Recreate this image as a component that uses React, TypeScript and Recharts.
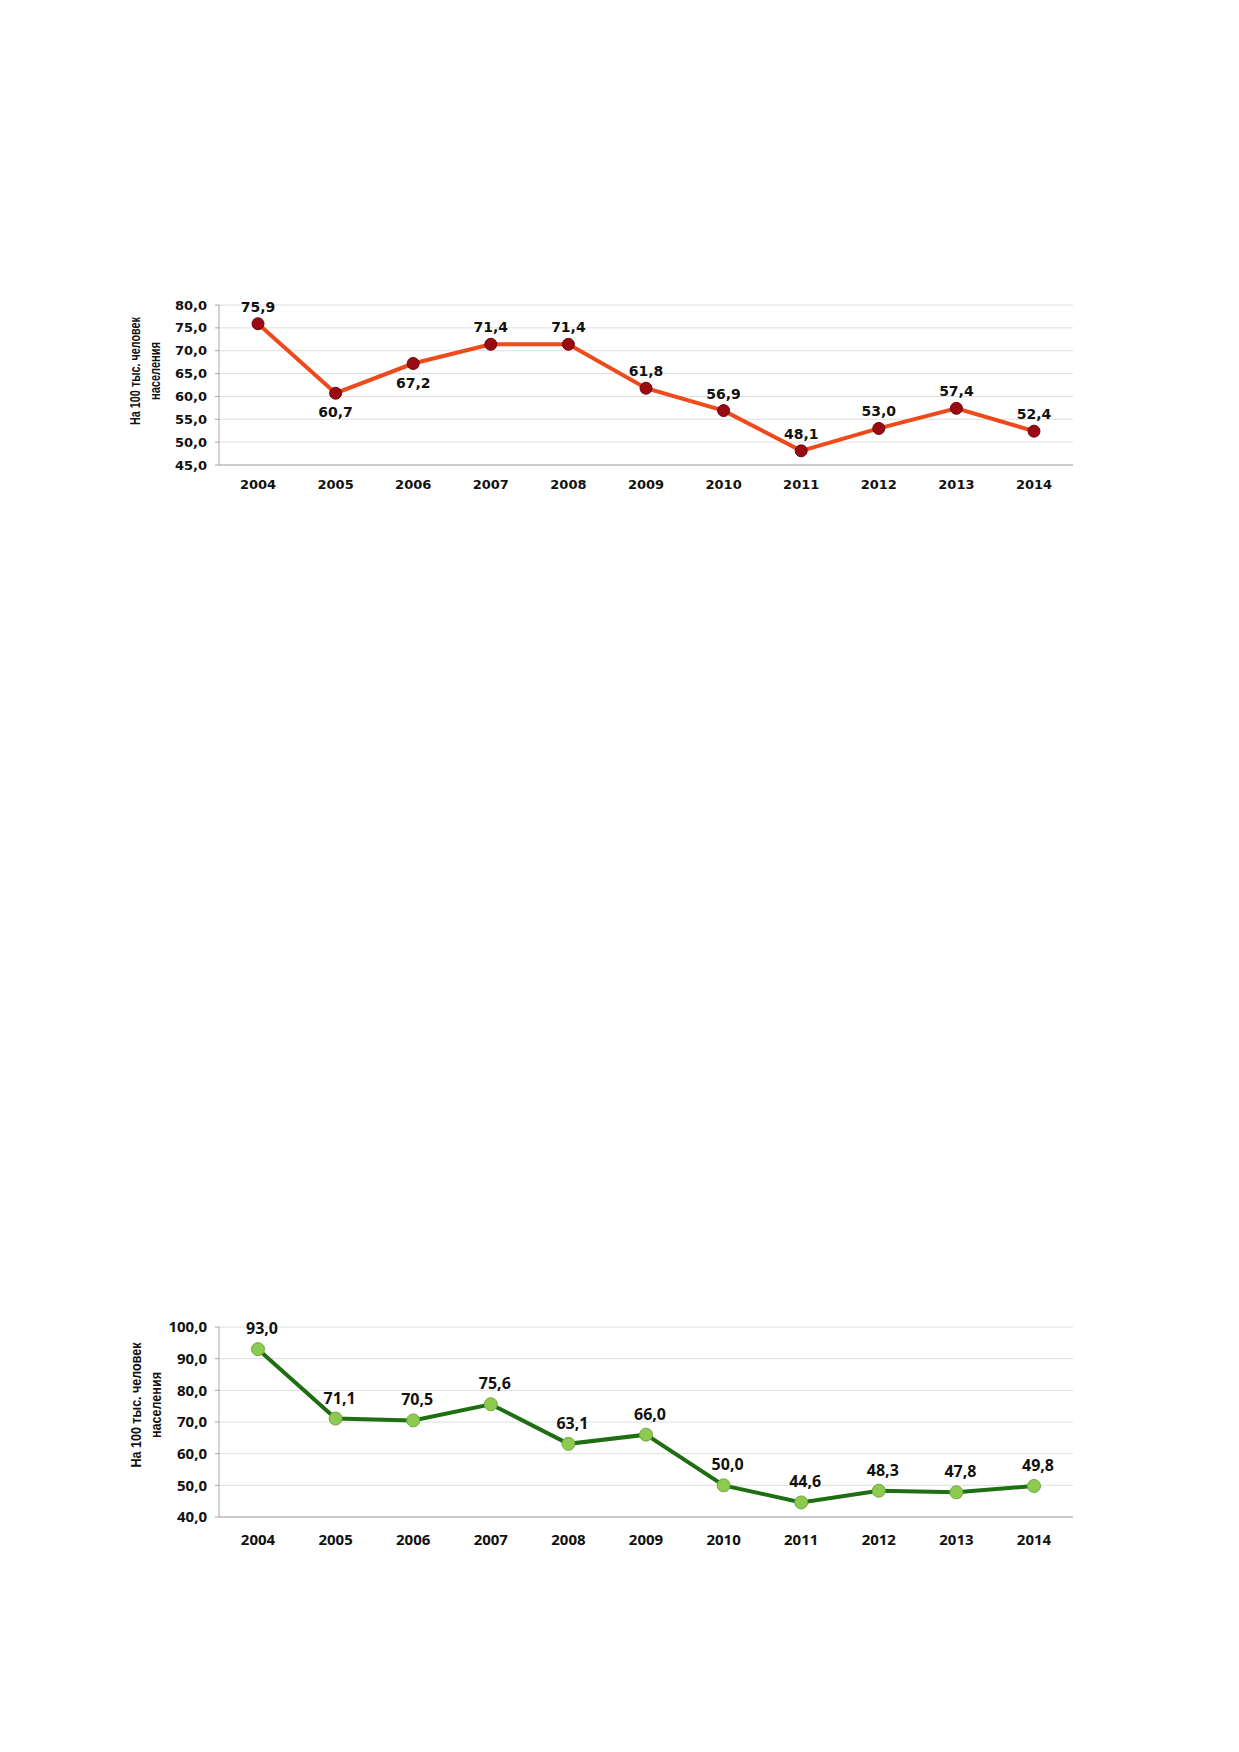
import React from "react";
import {
  LineChart,
  Line,
  XAxis,
  YAxis,
  CartesianGrid,
  LabelList,
} from "recharts";

const years = ["2004", "2005", "2006", "2007", "2008", "2009", "2010", "2011", "2012", "2013", "2014"];
const topValues = [75.9, 60.7, 67.2, 71.4, 71.4, 61.8, 56.9, 48.1, 53.0, 57.4, 52.4];
const bottomValues = [93.0, 71.1, 70.5, 75.6, 63.1, 66.0, 50.0, 44.6, 48.3, 47.8, 49.8];
const topTicks = [45, 50, 55, 60, 65, 70, 75, 80];
const bottomTicks = [40, 50, 60, 70, 80, 90, 100];
const edgeTicks = [0, 1, 2, 3, 4, 5, 6, 7, 8, 9, 10, 11];
const axisTitle = ["На 100 тыс. человек", "населения"];

const topData = years.map((year, i) => ({ year, value: topValues[i] }));
const bottomData = years.map((year, i) => ({ year, value: bottomValues[i] }));

// years whose label sits under the point in the first chart
const labelsBelow = ["2005", "2006"];

const fmt = (v: number) => v.toFixed(1).replace(".", ",");

const TITLE_FONT = '"Liberation Sans Narrow", "Arial Narrow", "Liberation Sans", sans-serif';

type ChartProps = {
  data: { year: string; value: number }[];
  ticks: number[];
  top: number;
  height: number;
  marginTop: number;
  tickFont: string;
  tickSize: number;
  labelFont: string;
  labelSize: number;
  labelGap: number;
  xMargin: number;
  line: string;
  dotFill: string;
  dotStroke: string;
  dotR: number;
  below: string[];
  labelDx: number;
  titleSize: number;
  titleLengths: number[];
  titleShift: number;
};

const Chart = (p: ChartProps) => {
  const renderLabel = (props: any) => {
    const { x, y, value, index } = props;
    const isBelow = p.below.includes(p.data[index].year);
    return (
      <text
        x={x + p.labelDx}
        y={isBelow ? y + 24 : y - p.labelGap}
        textAnchor="middle"
        fontFamily={p.labelFont}
        fontWeight="bold"
        fontSize={p.labelSize}
        fill="#111"
      >
        {fmt(value)}
      </text>
    );
  };

  const renderTitle = (props: any) => {
    const vb = props.viewBox;
    const cy = vb.y + vb.height / 2 - p.titleShift;
    const lines = [135, 155];
    return (
      <g>
        {axisTitle.map((t, i) => (
          <text
            key={t}
            x={lines[i]}
            y={cy}
            transform={`rotate(-90, ${lines[i]}, ${cy})`}
            textAnchor="middle"
            dominantBaseline="central"
            fontFamily={TITLE_FONT}
            fontWeight="bold"
            fontSize={p.titleSize}
            textLength={p.titleLengths[i]}
            lengthAdjust="spacingAndGlyphs"
            fill="#111"
          >
            {t}
          </text>
        ))}
      </g>
    );
  };

  return (
    <div style={{ position: "absolute", left: 0, top: p.top }}>
      <LineChart
        width={1239}
        height={p.height}
        data={p.data}
        margin={{ top: p.marginTop, right: 166, left: 0, bottom: 10 }}
      >
        <CartesianGrid vertical={false} stroke="#dedede" />
        <XAxis
          xAxisId="edges"
          type="number"
          domain={[0, 11]}
          ticks={edgeTicks}
          allowDataOverflow
          height={0}
          tick={false}
          axisLine={false}
          tickLine={{ stroke: "#a6a6a6" }}
          tickSize={6}
        />
        <XAxis
          dataKey="year"
          padding={{ left: 39, right: 39 }}
          height={40}
          axisLine={{ stroke: "#a6a6a6" }}
          tickLine={false}
          tickSize={0}
          tickMargin={p.xMargin}
          interval={0}
          tick={{ fontFamily: p.tickFont, fontWeight: "bold", fontSize: p.tickSize, fill: "#111" }}
        />
        <YAxis
          width={219}
          domain={[p.ticks[0], p.ticks[p.ticks.length - 1]]}
          ticks={p.ticks}
          interval={0}
          tickFormatter={fmt}
          axisLine={{ stroke: "#a6a6a6" }}
          tickLine={{ stroke: "#a6a6a6" }}
          tickSize={4}
          tickMargin={8}
          tick={{ fontFamily: p.tickFont, fontWeight: "bold", fontSize: p.tickSize, fill: "#111" }}
          label={{ content: renderTitle }}
        />
        <Line
          type="linear"
          dataKey="value"
          stroke={p.line}
          strokeWidth={4}
          dot={{ r: p.dotR, fill: p.dotFill, stroke: p.dotStroke, strokeWidth: 1 }}
          isAnimationActive={false}
        >
          <LabelList dataKey="value" content={renderLabel} />
        </Line>
      </LineChart>
    </div>
  );
};

export default function App() {
  return (
    <div
      style={{
        position: "absolute",
        left: 0,
        top: 0,
        width: 1239,
        height: 1752,
        background: "#fff",
      }}
    >
      <Chart
        data={topData}
        ticks={topTicks}
        top={260}
        height={255}
        marginTop={45}
        tickFont='"DejaVu Sans", Verdana, sans-serif'
        tickSize={13}
        labelFont='"DejaVu Sans", Verdana, sans-serif'
        labelSize={14}
        labelGap={12}
        xMargin={15}
        line="#ee4a1b"
        dotFill="#990a12"
        dotStroke="#6e060b"
        dotR={6}
        below={labelsBelow}
        labelDx={0}
        titleSize={14}
        titleLengths={[108, 58]}
        titleShift={14}
      />
      <Chart
        data={bottomData}
        ticks={bottomTicks}
        top={1280}
        height={287}
        marginTop={47}
        tickFont='"Noto Sans", "Open Sans", sans-serif'
        tickSize={15}
        labelFont='"Noto Sans", "Open Sans", sans-serif'
        labelSize={16}
        labelGap={15}
        xMargin={17}
        line="#1e6e12"
        dotFill="#8ccb50"
        dotStroke="#6fa83c"
        dotR={6.5}
        below={[]}
        labelDx={4}
        titleSize={15}
        titleLengths={[125, 66]}
        titleShift={17}
      />
    </div>
  );
}
